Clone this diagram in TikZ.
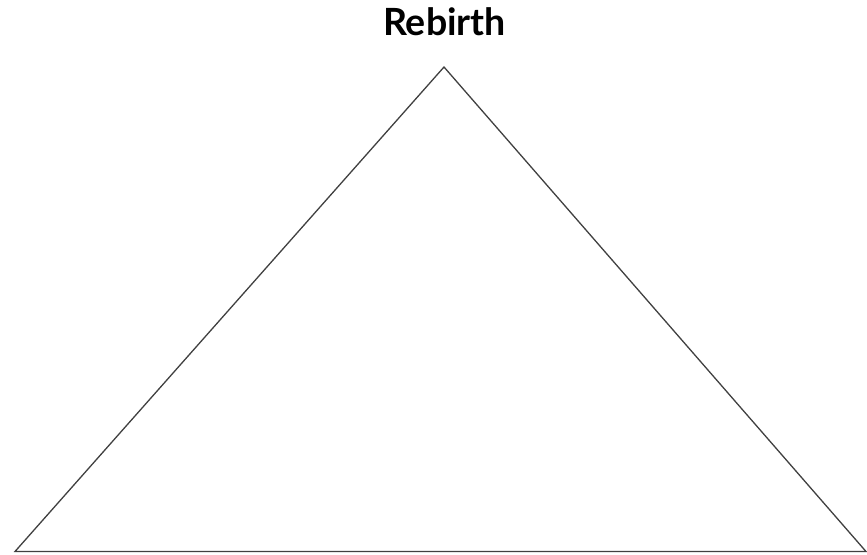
\documentclass[tikz,border=0pt]{standalone}
\usepackage{fontspec}
\setmainfont{Lato}
\begin{document}
\begin{tikzpicture}[x=1pt,y=-1pt,
  tri/.style={draw=black!75,line width=1.3pt,line join=miter},
  lbl/.style={font=\bfseries\fontsize{37.5}{40}\selectfont,anchor=base,inner sep=0pt}]
\useasboundingbox (0,0) rectangle (867,554);
\coordinate (apex) at (444,67);
\coordinate (bl) at (15,551.5);
\coordinate (br) at (866,551.5);
\draw[tri] (bl) -- (apex) -- (br) -- cycle;
\node[lbl] (title) at (444.5,35) {Rebirth};
\end{tikzpicture}
\end{document}
